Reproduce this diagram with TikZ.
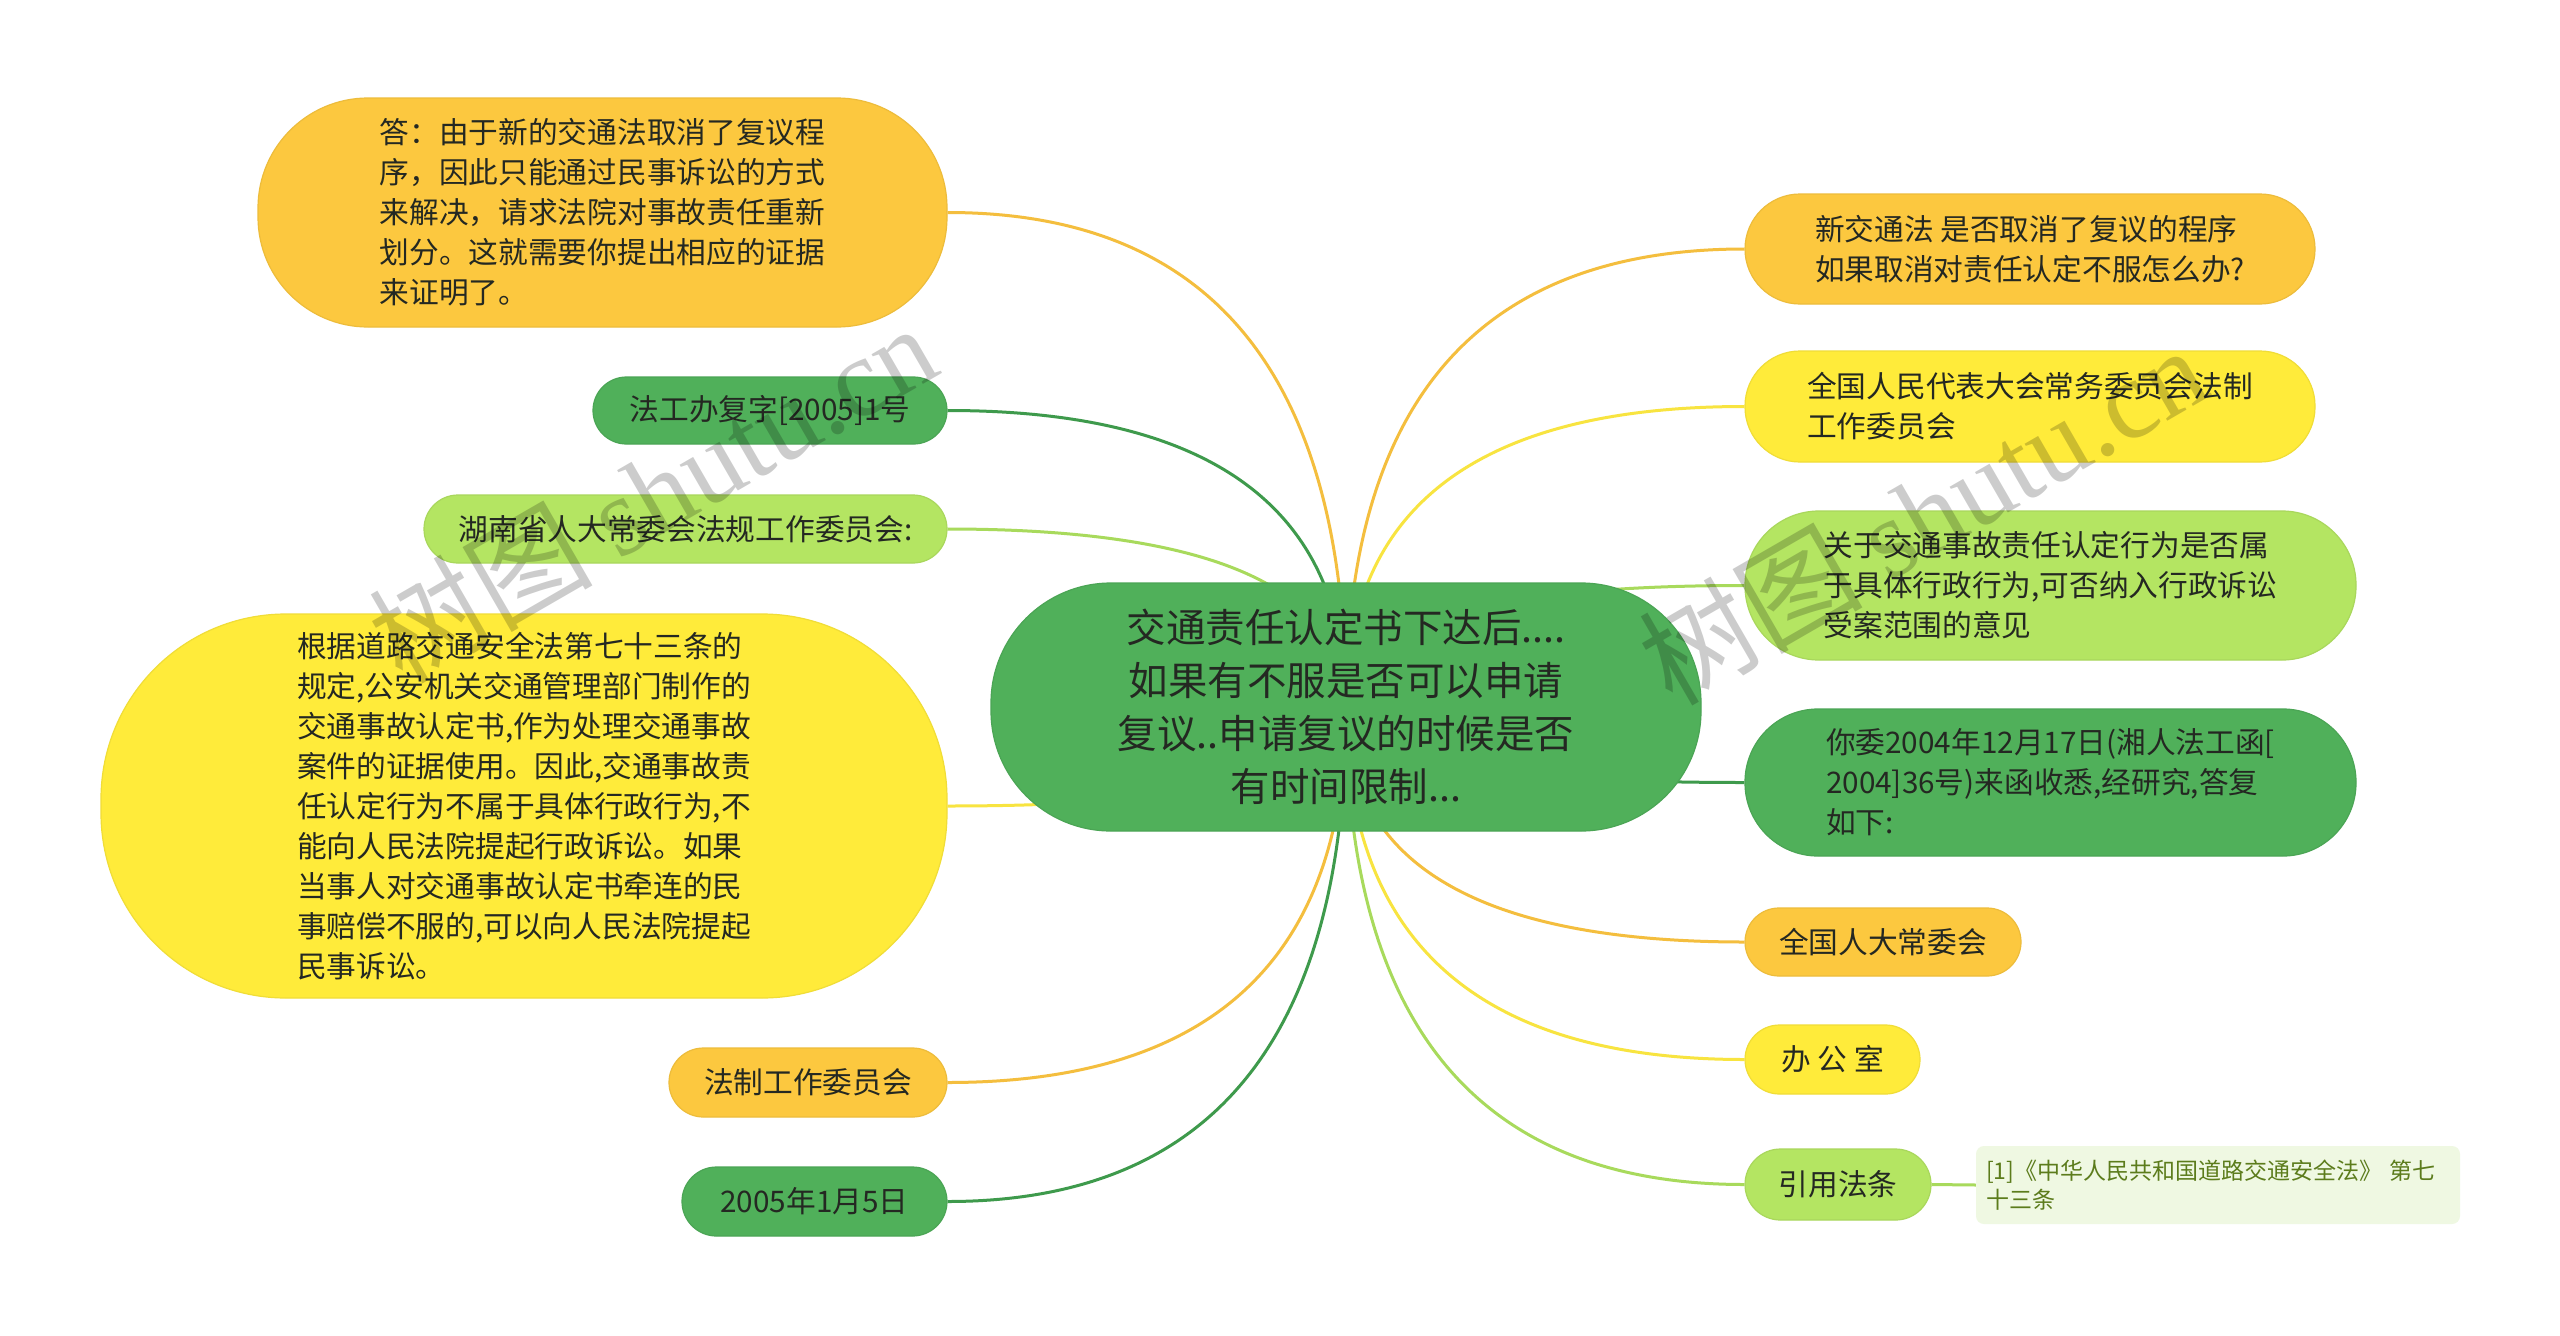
\documentclass[tikz,border=0pt]{standalone}
\usepackage{fontspec}
\setmainfont{Noto Sans CJK SC}
\newfontfamily\wmfont{Liberation Serif}
\usetikzlibrary{backgrounds,calc}
\definecolor{orf}{RGB}{252,200,63}
\definecolor{orl}{RGB}{244,190,62}
\definecolor{yef}{RGB}{255,235,58}
\definecolor{yel}{RGB}{248,228,64}
\definecolor{grf}{RGB}{80,176,90}
\definecolor{grl}{RGB}{62,154,76}
\definecolor{lgf}{RGB}{180,229,98}
\definecolor{lgl}{RGB}{168,218,92}
\definecolor{ntf}{RGB}{239,248,226}
\definecolor{ntt}{RGB}{92,124,28}
\definecolor{txt}{RGB}{36,40,34}
\newcommand\mmlink[3]{%
  \coordinate (ctl#3) at (root.center |- #2);
  \draw[#1, line width=3pt] (#2) .. controls ($(#2)!0.6667!(ctl#3)$) and ($(root.center)!0.6667!(ctl#3)$) .. (root.center);
}
\tikzset{
  mm/.style={rectangle, inner sep=0pt, text=txt, align=left,
    font=\fontsize{29.7}{40}\selectfont},
  orbox/.style={mm, fill=orf, draw=orf!94!black, line width=1.2pt},
  yebox/.style={mm, fill=yef, draw=yef!94!black, line width=1.2pt},
  grbox/.style={mm, fill=grf, draw=grf!94!black, line width=1.2pt},
  lgbox/.style={mm, fill=lgf, draw=lgf!94!black, line width=1.2pt},
  wm/.style={rotate=30, text=black, opacity=0.2, inner sep=0pt}
}
\begin{document}
\begin{tikzpicture}[x=1pt, y=-1pt]
\useasboundingbox (0,0) rectangle (2560,1336);

% root
\node[grbox, align=center, minimum width=710pt, minimum height=248pt, rounded corners=120pt,
  font=\fontsize{39.5}{53}\selectfont] (root) at (1346,707)
  {交通责任认定书下达后....\\如果有不服是否可以申请\\复议..申请复议的时候是否\\有时间限制...};

% left children
\node[orbox, minimum width=689pt, minimum height=229pt, rounded corners=110pt] (ans) at (602.5,212.5)
  {答：由于新的交通法取消了复议程\\序，因此只能通过民事诉讼的方式\\来解决，请求法院对事故责任重新\\划分。这就需要你提出相应的证据\\来证明了。};
\node[grbox, minimum width=354pt, minimum height=67pt, rounded corners=33.5pt] (fgb) at (770,410.5)
  {法工办复字[2005]1号};
\node[lgbox, minimum width=523pt, minimum height=68pt, rounded corners=34pt] (hn) at (685.5,529)
  {湖南省人大常委会法规工作委员会:};
\node[yebox, minimum width=846pt, minimum height=384pt, rounded corners=185pt] (big) at (524,806)
  {根据道路交通安全法第七十三条的\\规定,公安机关交通管理部门制作的\\交通事故认定书,作为处理交通事故\\案件的证据使用。因此,交通事故责\\任认定行为不属于具体行政行为,不\\能向人民法院提起行政诉讼。如果\\当事人对交通事故认定书牵连的民\\事赔偿不服的,可以向人民法院提起\\民事诉讼。};
\node[orbox, minimum width=278pt, minimum height=69pt, rounded corners=34.5pt] (fz) at (808,1082.5)
  {法制工作委员会};
\node[grbox, minimum width=265pt, minimum height=69pt, rounded corners=34.5pt] (date) at (814.5,1201.5)
  {2005年1月5日};

% right children
\node[orbox, minimum width=570pt, minimum height=110pt, rounded corners=55pt] (xjt) at (2030,249)
  {新交通法 是否取消了复议的程序\\如果取消对责任认定不服怎么办?};
\node[yebox, minimum width=570pt, minimum height=111pt, rounded corners=55pt] (qgdb) at (2030,406.5)
  {全国人民代表大会常务委员会法制\\工作委员会};
\node[lgbox, minimum width=611pt, minimum height=149pt, rounded corners=74pt] (gy) at (2050.5,585.5)
  {关于交通事故责任认定行为是否属\\于具体行政行为,可否纳入行政诉讼\\受案范围的意见};
\node[grbox, minimum width=611pt, minimum height=147pt, rounded corners=73pt] (nw) at (2050.5,782.5)
  {你委2004年12月17日(湘人法工函[\\2004]36号)来函收悉,经研究,答复\\如下:};
\node[orbox, minimum width=276pt, minimum height=68pt, rounded corners=34pt] (qgrd) at (1883,942)
  {全国人大常委会};
\node[yebox, minimum width=175pt, minimum height=69pt, rounded corners=34.5pt] (bgs) at (1832.5,1059.5)
  {办 公 室};
\node[lgbox, minimum width=186pt, minimum height=71pt, rounded corners=35.5pt] (yyft) at (1838,1184.5)
  {引用法条};
\node[rectangle, fill=ntf, rounded corners=8pt, text=ntt, align=left, text width=464pt,
  inner xsep=10pt, inner ysep=0pt, minimum height=78pt,
  font=\fontsize{23}{29}\selectfont] (note) at (2218,1185)
  {[1]《中华人民共和国道路交通安全法》 第七\\十三条};

% connectors
\begin{scope}[on background layer]
  \fill[white] (0,0) rectangle (2560,1336);
  \mmlink{orl}{ans.east}{a}
  \mmlink{grl}{fgb.east}{b}
  \mmlink{lgl}{hn.east}{c}
  \mmlink{yel}{big.east}{d}
  \mmlink{orl}{fz.east}{e}
  \mmlink{grl}{date.east}{f}
  \mmlink{orl}{xjt.west}{g}
  \mmlink{yel}{qgdb.west}{h}
  \mmlink{lgl}{gy.west}{i}
  \mmlink{grl}{nw.west}{j}
  \mmlink{orl}{qgrd.west}{k}
  \mmlink{yel}{bgs.west}{l}
  \mmlink{lgl}{yyft.west}{m}
  \draw[lgl, line width=3pt] (yyft.east) -- (note.west);
\end{scope}

% watermarks
\node[wm, font=\fontsize{112}{112}\selectfont] (wm1) at (652,492) {树图 {\wmfont shutu.cn}};
\node[wm, font=\fontsize{112}{112}\selectfont] (wm2) at (1922,514) {树图 {\wmfont shutu.cn}};
\end{tikzpicture}
\end{document}
